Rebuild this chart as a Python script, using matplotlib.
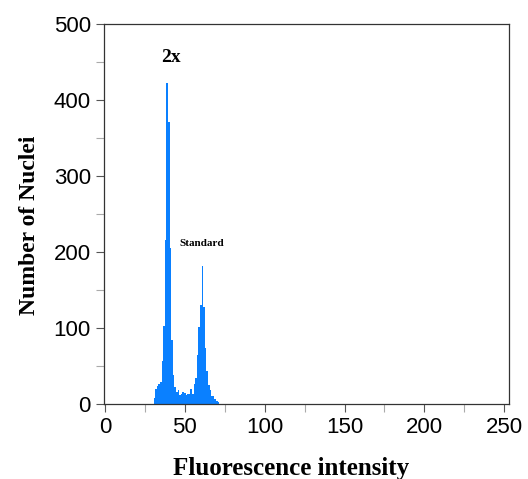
import numpy as np
import matplotlib.pyplot as plt

# Histogram channels (bin centres) and counts
channels = np.arange(31, 72)
counts = [8, 20, 23, 26, 29, 56, 102, 215, 422, 371,
          205, 84, 38, 22, 16, 18, 12, 13, 15, 14,
          11, 13, 13, 19, 13, 26, 34, 64, 101, 130,
          182, 128, 73, 43, 25, 18, 10, 10, 6, 4,
          2]

x_ticks = [0, 50, 100, 150, 200, 250]
y_ticks = [0, 100, 200, 300, 400, 500]

bar_color = "#0a80ff"

fig = plt.figure(figsize=(5.28, 4.79), dpi=100)
ax = fig.add_axes([0.197, 0.157, 0.767, 0.793])

ax.bar(channels, counts, width=1.0, color=bar_color, linewidth=0)

ax.set_xlim(-0.6, 253)
ax.set_ylim(0, 500)
ax.set_xticks(x_ticks)
ax.set_yticks(y_ticks)
ax.set_xticks([25, 75, 125, 175, 225], minor=True)
ax.set_yticks([50, 150, 250, 350, 450], minor=True)
ax.tick_params(axis="both", which="major", direction="out", length=6,
               width=0.8, color="#555555", labelsize=16)
ax.tick_params(axis="both", which="minor", direction="out", length=6,
               width=0.8, color="#aaaaaa")
for lab in ax.get_xticklabels() + ax.get_yticklabels():
    lab.set_family("Liberation Sans")

for s in ax.spines.values():
    s.set_linewidth(0.9)
    s.set_color("#333333")

ax.set_xlabel("Fluorescence intensity", family="Liberation Serif",
              fontweight="bold", fontsize=18, labelpad=14)
ax.set_ylabel("Number of Nuclei", family="Liberation Serif",
              fontweight="bold", fontsize=17, labelpad=10)
ax.xaxis.label.set_x(0.462)
ax.yaxis.label.set_y(0.47)

ax.text(41.5, 456, "2x", family="Liberation Serif", fontweight="bold",
        fontsize=14, ha="center", va="center")
ax.text(46.5, 211, "Standard", family="Liberation Serif", fontweight="bold",
        fontsize=8, ha="left", va="center")

fig.savefig("out.png", dpi=100)
